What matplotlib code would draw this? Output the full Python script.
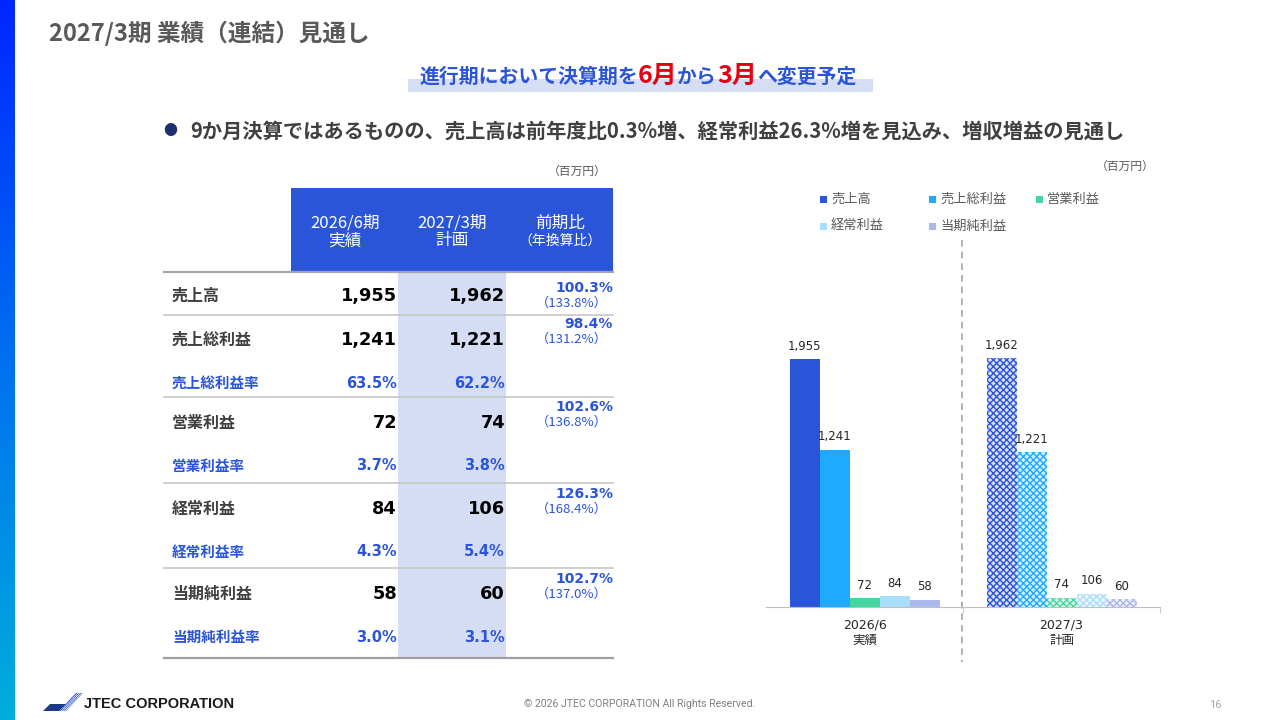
import matplotlib
matplotlib.use("Agg")
import matplotlib.pyplot as plt
import numpy as np
from matplotlib.colors import LinearSegmentedColormap, to_rgb
from matplotlib.patches import Rectangle, Polygon

plt.rcParams['font.family'] = ['Noto Sans CJK JP', 'DejaVu Sans']
plt.rcParams['hatch.linewidth'] = 1.0

# ---------------------------------------------------------------------------
# Data (百万円)
# ---------------------------------------------------------------------------
items = ["売上高", "売上総利益", "営業利益", "経常利益", "当期純利益"]
actual_2026_6 = [1955, 1241, 72, 84, 58]
plan_2027_3 = [1962, 1221, 74, 106, 60]
yoy_pct = [100.3, 98.4, 102.6, 126.3, 102.7]
annualized_pct = [133.8, 131.2, 136.8, 168.4, 137.0]
margin_names = [None, "売上総利益率", "営業利益率", "経常利益率", "当期純利益率"]
margin_2026_6 = [None, 63.5, 3.7, 4.3, 3.0]
margin_2027_3 = [None, 62.2, 3.8, 5.4, 3.1]
table_headers = ["2026/6期\n実績", "2027/3期\n計画", "前期比\n（年換算比）"]
periods = ["2026/6\n実績", "2027/3\n計画"]
series_colors = ["#2B55D9", "#1FAAFF", "#45D6A0", "#A8DEFA", "#AAB8EC"]

BLUE = "#2B55D9"
GRAY_TXT = "#595959"

fig = plt.figure(figsize=(12.8, 7.2), dpi=100)
bg = fig.add_axes([0, 0, 1, 1])
bg.set_xlim(0, 1280)
bg.set_ylim(720, 0)
bg.axis('off')

# left gradient stripe
cmap = LinearSegmentedColormap.from_list("edge", ["#0026FF", "#0070F0", "#00AEDC"])
bg.imshow(np.linspace(0, 1, 256).reshape(-1, 1), cmap=cmap, aspect='auto',
          extent=[0, 15, 720, 0], zorder=0)
bg.set_xlim(0, 1280)
bg.set_ylim(720, 0)

renderer = fig.canvas.get_renderer()


def runs(x, y, parts, **kw):
    """Draw text pieces one after another on a common baseline."""
    for s, color, size in parts:
        t = bg.text(x, y, s, color=color, fontsize=size, va='baseline',
                    fontweight='bold', **kw)
        x += t.get_window_extent(renderer).width


# title
bg.text(49, 33, "2027/3期 業績（連結）見通し", fontsize=17, fontweight='bold',
        color=GRAY_TXT, va='center', ha='left')

# banner
bg.add_patch(Rectangle((408, 79), 465, 13, color="#D6DEF6", lw=0, zorder=1))
runs(419, 83, [("進行期において決算期を", BLUE, 14.3), ("6月", "#E60012", 18),
               ("から", BLUE, 14.3), ("3月", "#E60012", 18),
               ("へ変更予定", BLUE, 14.3)], zorder=2)

# bullet line
bg.text(170, 131, "●", fontsize=10, color="#1F2F6E", ha='center', va='center')
bg.text(190, 131, "9か月決算ではあるものの、売上高は前年度比0.3%増、経常利益26.3%増を見込み、増収増益の見通し",
        fontsize=14.6, fontweight='bold', color="#404040", ha='left', va='center')

# ---------------------------------------------------------------------------
# Table
# ---------------------------------------------------------------------------
bg.text(577, 171, "（百万円）", fontsize=8.5, color=GRAY_TXT, ha='center', va='center')
bg.add_patch(Rectangle((291, 188), 322, 84, color=BLUE, lw=0))
bg.add_patch(Rectangle((398, 272), 108, 386, color="#D5DDF5", lw=0))
for cx, head in zip([345, 452, 560], table_headers):
    l1, l2 = head.split("\n")
    bg.text(cx, 223, l1, fontsize=12, color="white", ha='center', va='center')
    bg.text(cx, 241, l2, fontsize=12 if cx < 500 else 10, color="white",
            ha='center', va='center')

seps = [272, 315, 397, 483, 568, 658]
for i, yy in enumerate(seps):
    if i == len(seps) - 1:
        bg.plot([164, 613], [yy, yy], color="#A0A0A0", lw=1.6)
    elif i == 0:
        bg.plot([164, 613], [yy, yy], color="#A6A6A6", lw=1.6)
    else:
        bg.plot([164, 613], [yy, yy], color="#C8C8C8", lw=1.2)

main_y = [296, 340, 423, 509, 594]
ratio_y = [288, 324, 407, 494, 579]
for i, name in enumerate(items):
    y = main_y[i]
    bg.text(172, y, name, fontsize=11.5, fontweight='bold', color="#404040",
            ha='left', va='center')
    bg.text(397, y, f"{actual_2026_6[i]:,}", fontsize=12.8, fontweight='bold',
            family='DejaVu Sans', color="black", ha='right', va='center')
    bg.text(505, y, f"{plan_2027_3[i]:,}", fontsize=12.8, fontweight='bold',
            family='DejaVu Sans', color="black", ha='right', va='center')
    bg.text(613, ratio_y[i], f"{yoy_pct[i]:.1f}%", fontsize=10, fontweight='bold',
            family='DejaVu Sans', color=BLUE, ha='right', va='center')
    bg.text(608, ratio_y[i] + 15, f"（{annualized_pct[i]:.1f}%）", fontsize=9.5,
            color=BLUE, ha='right', va='center')
    if margin_names[i]:
        my = y + 43
        bg.text(172, my, margin_names[i], fontsize=10.5, fontweight='bold',
                color=BLUE, ha='left', va='center')
        bg.text(397, my, f"{margin_2026_6[i]:.1f}%", fontsize=10.5, fontweight='bold',
                family='DejaVu Sans', color=BLUE, ha='right', va='center')
        bg.text(505, my, f"{margin_2027_3[i]:.1f}%", fontsize=10.5, fontweight='bold',
                family='DejaVu Sans', color=BLUE, ha='right', va='center')

# ---------------------------------------------------------------------------
# Bar chart
# ---------------------------------------------------------------------------
bg.text(1125, 166, "（百万円）", fontsize=8.5, color=GRAY_TXT, ha='center', va='center')
legend_pos = [(823, 199), (932, 199), (1039, 199), (823, 226), (932, 226)]
for (lx, ly), name, c in zip(legend_pos, items, series_colors):
    bg.add_patch(Rectangle((lx - 3.5, ly - 3.5), 7, 7, color=c, lw=0))
    bg.text(lx + 8, ly, name, fontsize=9.5, color=GRAY_TXT, ha='left', va='center')

bg.plot([962, 962], [240, 662], color="#A6A6A6", lw=1.2, ls=(0, (4, 3)))

ax = fig.add_axes([766 / 1280, 113 / 720, 394 / 1280, 317 / 720])
ax.patch.set_alpha(0)
w = 30 / 197
offsets = (np.arange(len(items)) - 2) * w
for j, c in enumerate(series_colors):
    bars = ax.bar(0 + offsets[j], actual_2026_6[j], w, color=c, lw=0)
    ax.bar_label(bars, labels=[f"{actual_2026_6[j]:,}"], padding=4.5, fontsize=8.5,
                 family='DejaVu Sans', color="#262626")
    tint = tuple(0.2 * np.array(to_rgb(c)) + 0.8)
    bars = ax.bar(1 + offsets[j], plan_2027_3[j], w, facecolor=tint, edgecolor=c,
                  hatch='xxxxx', lw=0)
    ax.bar_label(bars, labels=[f"{plan_2027_3[j]:,}"], padding=4.5, fontsize=8.5,
                 family='DejaVu Sans', color="#262626")

ax.set_xlim(-0.5, 1.5)
ax.set_ylim(0, 2500)
for s in ['top', 'right', 'left']:
    ax.spines[s].set_visible(False)
ax.spines['bottom'].set_color("#BFBFBF")
ax.set_yticks([])
ax.set_xticks([0, 1])
ax.set_xticklabels(periods, fontsize=9, color="#262626",
                   family=['DejaVu Sans', 'Noto Sans CJK JP'])
ax.tick_params(axis='x', which='major', length=0, pad=8.5)
ax.set_xticks([0.5, 1.5], minor=True)
ax.tick_params(axis='x', which='minor', length=4, color="#BFBFBF", direction='out')

# ---------------------------------------------------------------------------
# Footer
# ---------------------------------------------------------------------------
bg.add_patch(Polygon([(43, 711), (50, 704), (66, 704), (59, 711)], closed=True,
                     color="#1E3A8A", lw=0))
bg.add_patch(Polygon([(59, 711), (76, 693), (83, 693), (66, 711)], closed=True,
                     color="#2F55C8", lw=0))
for k in range(3):
    d = 2 + k * 2
    bg.plot([59 + d, 76 + d], [711, 693], color="white", lw=0.5)
bg.text(84, 704, "JTEC CORPORATION", fontsize=10.5, fontweight='bold',
        family='Liberation Sans', color="#1A1A1A", ha='left', va='center')
bg.text(640, 704, "© 2026 JTEC CORPORATION All Rights Reserved.", fontsize=7.6,
        family='Roboto', color="#7F7F7F", ha='center', va='center')
bg.text(1215, 705, "16", fontsize=8, family='Roboto', color="#A6A6A6",
        ha='center', va='center')

fig.savefig("out.png", dpi=100)
